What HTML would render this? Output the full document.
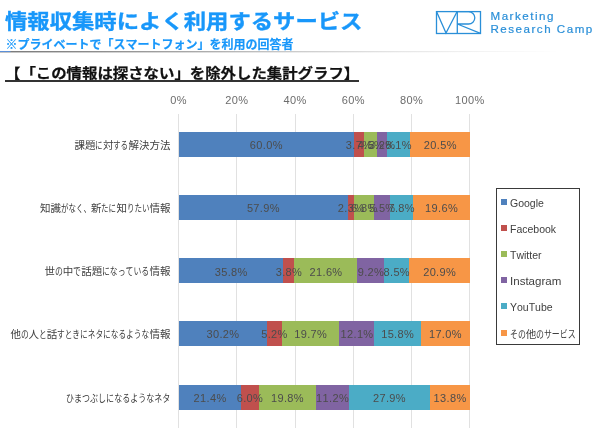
<!DOCTYPE html>
<html lang="ja"><head><meta charset="utf-8"><title>情報収集時によく利用するサービス</title>
<style>
html,body{margin:0;padding:0;background:#fff;}
body{width:600px;height:429px;position:relative;overflow:hidden;font-family:"Liberation Sans","Noto Sans CJK JP",sans-serif;}
.abs{position:absolute;white-space:nowrap;text-spacing-trim:space-all;font-kerning:none;}
.title{left:4.6px;top:5.2px;font-size:20px;line-height:34px;font-weight:700;color:#1897fa;-webkit-text-stroke:0.35px #1897fa;transform-origin:0 50%;transform:scaleX(1.117);}
.sub{left:5.5px;top:35.5px;font-size:12px;line-height:18px;font-weight:700;color:#1897fa;-webkit-text-stroke:0.2px #1897fa;}
.rule{left:0;top:50.7px;width:600px;height:1.2px;background:linear-gradient(90deg,#5b8fd8 0,#5b8fd8 10px,#7c7c7c 11px,#8e8e8e 100px,#ababab 200px,#cdcdcd 300px,#e6e6e6 400px,#f6f6f6 500px,#fff 560px);}
.rule2{left:0;top:51.9px;width:600px;height:1px;background:linear-gradient(90deg,#c4c4c4 0,#d0d0d0 100px,#dedede 200px,#ededed 300px,#f8f8f8 400px,#fff 480px);}
.head{left:5px;top:62.3px;font-size:14px;line-height:22px;font-weight:700;color:#111;transform-origin:0 50%;transform:scaleX(1.1);-webkit-text-stroke:0.25px #111;}
.headline{left:5px;top:80.3px;width:354px;height:1.4px;background:#333;}
.grid{width:1px;background:#e1e1e1;top:113.5px;height:314.5px;}
.ax{font-size:11px;line-height:14px;color:#6c6c6c;width:40px;text-align:center;top:93.3px;letter-spacing:0.35px;text-indent:-0.3px;}
.bar{height:24.8px;}
.dl{font-size:11px;line-height:14px;color:#4c4c4c;width:40px;text-align:center;letter-spacing:0.35px;text-indent:0.35px;margin-top:0.9px;}
.cat{font-size:10.5px;line-height:16px;height:16px;color:#404040;right:429.6px;}
.kn{display:inline-block;height:16px;vertical-align:top;overflow:visible;}
.kn>span{display:inline-block;transform-origin:0 50%;white-space:nowrap;}
.kj{display:inline-block;height:16px;vertical-align:top;}
.legbox{left:495.8px;top:188.3px;width:84.6px;height:157.2px;border:1.2px solid #3a3a3a;box-sizing:border-box;background:#fff;}
.lm{left:501.2px;width:6px;height:6px;}
.lt{left:510px;font-size:10.5px;line-height:14px;color:#404040;transform-origin:0 50%;}
.logotxt{left:490.5px;font-size:11.6px;line-height:12.5px;color:#2a8fd8;letter-spacing:1.5px;-webkit-text-stroke:0.2px #2a8fd8;}
</style></head><body>

<div class="abs title">情報収集時によく利用するサービス</div>
<div class="abs sub">※プライベートで「スマートフォン」を利用の回答者</div>
<div class="abs rule"></div><div class="abs rule2"></div>
<div class="abs head">【「この情報は探さない」を除外した集計グラフ】</div>
<div class="abs headline"></div>
<svg class="abs" style="left:430px;top:6px" width="60" height="34" viewBox="430 6 60 34" fill="none" stroke="#2a8fd8" stroke-width="1.3" stroke-linejoin="miter">
<rect x="436.5" y="11.6" width="44" height="21.9"/>
<path d="M436.5 11.6 L446 33 L457 11.8"/>
<path d="M457.3 11.6 V33.5"/>
<path d="M457.3 11.6 H468.6 A6.2 6.2 0 0 1 468.6 24 H457.3 L480.5 33.3"/>
</svg>
<div class="abs logotxt" style="top:10px">Marketing</div>
<div class="abs logotxt" style="top:22.5px">Research Camp</div>
<div class="abs grid" style="left:178.10px"></div>
<div class="abs ax" style="left:158.80px">0%</div>
<div class="abs grid" style="left:236.34px"></div>
<div class="abs ax" style="left:217.04px">20%</div>
<div class="abs grid" style="left:294.58px"></div>
<div class="abs ax" style="left:275.28px">40%</div>
<div class="abs grid" style="left:352.82px"></div>
<div class="abs ax" style="left:333.52px">60%</div>
<div class="abs grid" style="left:411.06px"></div>
<div class="abs ax" style="left:391.76px">80%</div>
<div class="abs grid" style="left:469.30px"></div>
<div class="abs ax" style="left:450.00px">100%</div>
<div class="abs bar" style="left:178.80px;top:131.9px;width:291.20px;background:#4f81bd"></div>
<div class="abs bar" style="left:353.52px;top:131.9px;width:116.48px;background:#c0504d"></div>
<div class="abs bar" style="left:364.29px;top:131.9px;width:105.71px;background:#9bbb59"></div>
<div class="abs bar" style="left:377.40px;top:131.9px;width:92.60px;background:#8064a2"></div>
<div class="abs bar" style="left:386.72px;top:131.9px;width:83.28px;background:#4bacc6"></div>
<div class="abs bar" style="left:410.30px;top:131.9px;width:59.70px;background:#f79646"></div>
<div class="abs dl" style="left:246.16px;top:137.30px">60.0%</div>
<div class="abs dl" style="left:338.91px;top:137.30px">3.7%</div>
<div class="abs dl" style="left:350.85px;top:137.30px">4.5%</div>
<div class="abs dl" style="left:362.06px;top:137.30px">3.2%</div>
<div class="abs dl" style="left:378.51px;top:137.30px">8.1%</div>
<div class="abs dl" style="left:420.15px;top:137.30px">20.5%</div>
<div class="abs cat" style="top:137.00px"><span class="kj">課題</span><span class="kn" style="width:7.50px"><span style="transform:scaleX(0.7143)">に</span></span><span class="kj">対</span><span class="kn" style="width:15.00px"><span style="transform:scaleX(0.7143)">する</span></span><span class="kj">解決方法</span></div>
<div class="abs bar" style="left:178.80px;top:195.0px;width:291.20px;background:#4f81bd"></div>
<div class="abs bar" style="left:347.57px;top:195.0px;width:122.43px;background:#c0504d"></div>
<div class="abs bar" style="left:354.28px;top:195.0px;width:115.72px;background:#9bbb59"></div>
<div class="abs bar" style="left:374.10px;top:195.0px;width:95.90px;background:#8064a2"></div>
<div class="abs bar" style="left:390.13px;top:195.0px;width:79.87px;background:#4bacc6"></div>
<div class="abs bar" style="left:412.87px;top:195.0px;width:57.13px;background:#f79646"></div>
<div class="abs dl" style="left:243.19px;top:200.40px">57.9%</div>
<div class="abs dl" style="left:330.93px;top:200.40px">2.3%</div>
<div class="abs dl" style="left:344.19px;top:200.40px">6.8%</div>
<div class="abs dl" style="left:362.12px;top:200.40px">5.5%</div>
<div class="abs dl" style="left:381.50px;top:200.40px">7.8%</div>
<div class="abs dl" style="left:421.43px;top:200.40px">19.6%</div>
<div class="abs cat" style="top:200.10px"><span class="kj">知識</span><span class="kn" style="width:30.00px"><span style="transform:scaleX(0.7143)">がなく、</span></span><span class="kj">新</span><span class="kn" style="width:15.00px"><span style="transform:scaleX(0.7143)">たに</span></span><span class="kj">知</span><span class="kn" style="width:22.50px"><span style="transform:scaleX(0.7143)">りたい</span></span><span class="kj">情報</span></div>
<div class="abs bar" style="left:178.80px;top:258.3px;width:291.20px;background:#4f81bd"></div>
<div class="abs bar" style="left:283.26px;top:258.3px;width:186.74px;background:#c0504d"></div>
<div class="abs bar" style="left:294.35px;top:258.3px;width:175.65px;background:#9bbb59"></div>
<div class="abs bar" style="left:357.37px;top:258.3px;width:112.63px;background:#8064a2"></div>
<div class="abs bar" style="left:384.22px;top:258.3px;width:85.78px;background:#4bacc6"></div>
<div class="abs bar" style="left:409.02px;top:258.3px;width:60.98px;background:#f79646"></div>
<div class="abs dl" style="left:211.03px;top:263.70px">35.8%</div>
<div class="abs dl" style="left:268.80px;top:263.70px">3.8%</div>
<div class="abs dl" style="left:305.86px;top:263.70px">21.6%</div>
<div class="abs dl" style="left:350.79px;top:263.70px">9.2%</div>
<div class="abs dl" style="left:376.62px;top:263.70px">8.5%</div>
<div class="abs dl" style="left:419.51px;top:263.70px">20.9%</div>
<div class="abs cat" style="top:263.40px"><span class="kj">世</span><span class="kn" style="width:7.88px"><span style="transform:scaleX(0.7500)">の</span></span><span class="kj">中</span><span class="kn" style="width:7.88px"><span style="transform:scaleX(0.7500)">で</span></span><span class="kj">話題</span><span class="kn" style="width:47.25px"><span style="transform:scaleX(0.7500)">になっている</span></span><span class="kj">情報</span></div>
<div class="abs bar" style="left:178.80px;top:321.2px;width:291.20px;background:#4f81bd"></div>
<div class="abs bar" style="left:266.74px;top:321.2px;width:203.26px;background:#c0504d"></div>
<div class="abs bar" style="left:281.88px;top:321.2px;width:188.12px;background:#9bbb59"></div>
<div class="abs bar" style="left:339.25px;top:321.2px;width:130.75px;background:#8064a2"></div>
<div class="abs bar" style="left:374.49px;top:321.2px;width:95.51px;background:#4bacc6"></div>
<div class="abs bar" style="left:420.50px;top:321.2px;width:49.50px;background:#f79646"></div>
<div class="abs dl" style="left:202.77px;top:326.60px">30.2%</div>
<div class="abs dl" style="left:254.31px;top:326.60px">5.2%</div>
<div class="abs dl" style="left:290.57px;top:326.60px">19.7%</div>
<div class="abs dl" style="left:336.87px;top:326.60px">12.1%</div>
<div class="abs dl" style="left:377.49px;top:326.60px">15.8%</div>
<div class="abs dl" style="left:425.25px;top:326.60px">17.0%</div>
<div class="abs cat" style="top:326.30px"><span class="kj">他</span><span class="kn" style="width:7.68px"><span style="transform:scaleX(0.7313)">の</span></span><span class="kj">人</span><span class="kn" style="width:7.68px"><span style="transform:scaleX(0.7313)">と</span></span><span class="kj">話</span><span class="kn" style="width:92.14px"><span style="transform:scaleX(0.7313)">すときにネタになるような</span></span><span class="kj">情報</span></div>
<div class="abs bar" style="left:178.80px;top:385.0px;width:291.20px;background:#4f81bd"></div>
<div class="abs bar" style="left:241.05px;top:385.0px;width:228.95px;background:#c0504d"></div>
<div class="abs bar" style="left:258.51px;top:385.0px;width:211.49px;background:#9bbb59"></div>
<div class="abs bar" style="left:316.11px;top:385.0px;width:153.89px;background:#8064a2"></div>
<div class="abs bar" style="left:348.69px;top:385.0px;width:121.31px;background:#4bacc6"></div>
<div class="abs bar" style="left:429.85px;top:385.0px;width:40.15px;background:#f79646"></div>
<div class="abs dl" style="left:189.93px;top:390.40px">21.4%</div>
<div class="abs dl" style="left:229.78px;top:390.40px">6.0%</div>
<div class="abs dl" style="left:267.31px;top:390.40px">19.8%</div>
<div class="abs dl" style="left:312.40px;top:390.40px">11.2%</div>
<div class="abs dl" style="left:369.27px;top:390.40px">27.9%</div>
<div class="abs dl" style="left:429.93px;top:390.40px">13.8%</div>
<div class="abs cat" style="top:390.10px"><span class="kn" style="width:104.30px"><span style="transform:scaleX(0.7641)">ひまつぶしになるようなネタ</span></span></div>
<div class="abs legbox"></div>
<div class="abs lm" style="top:198.60px;background:#4f81bd"></div>
<div class="abs lt" style="top:195.50px">Google</div>
<div class="abs lm" style="top:225.20px;background:#c0504d"></div>
<div class="abs lt" style="top:222.10px">Facebook</div>
<div class="abs lm" style="top:251.00px;background:#9bbb59"></div>
<div class="abs lt" style="top:247.90px">Twitter</div>
<div class="abs lm" style="top:277.10px;background:#8064a2"></div>
<div class="abs lt" style="top:274.00px;transform:scaleX(1.1)">Instagram</div>
<div class="abs lm" style="top:303.30px;background:#4bacc6"></div>
<div class="abs lt" style="top:300.20px">YouTube</div>
<div class="abs lm" style="top:329.60px;background:#f79646"></div>
<div class="abs lt" style="top:326.50px"><span class="kn" style="width:15.86px"><span style="transform:scaleX(0.7551)">その</span></span><span class="kj">他</span><span class="kn" style="width:39.64px"><span style="transform:scaleX(0.7551)">のサービス</span></span></div>
</body></html>
